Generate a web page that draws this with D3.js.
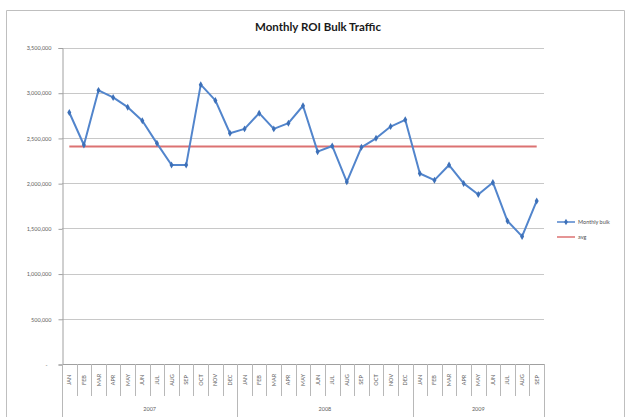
<!DOCTYPE html>
<html>
<head>
<meta charset="utf-8">
<script src="https://cdn.jsdelivr.net/npm/d3@7"></script>
<style>
html,body{margin:0;padding:0;background:#fff;}
svg{display:block;font-family:Lato,"Open Sans",sans-serif;}
</style>
</head>
<body>
<svg id="c" width="634" height="417"></svg>
<script>
const months = ["JAN","FEB","MAR","APR","MAY","JUN","JUL","AUG","SEP","OCT","NOV","DEC",
                "JAN","FEB","MAR","APR","MAY","JUN","JUL","AUG","SEP","OCT","NOV","DEC",
                "JAN","FEB","MAR","APR","MAY","JUN","JUL","AUG","SEP"];
const years = ["2007","2008","2009"];
const yearCounts = [12,12,9];
const monthlyBulk = [2781000,2422000,3026000,2948000,2840000,2690000,2440000,2200000,2200000,3089000,2915000,2552000,
                     2600000,2774000,2600000,2663000,2856000,2348000,2411000,2014000,2396000,2496000,2626000,2700000,
                     2107000,2033000,2200000,1997000,1874000,2008000,1581000,1411000,1803000];
const avgValue = [2405000];
const yTicks = [0,500000,1000000,1500000,2000000,2500000,3000000,3500000];
const seriesNames = ["Monthly bulk","avg"];

const svg = d3.select("#c");
const L = 62, R = 544, T = 47.5, B = 364;
const idx = d3.range(months.length);
const x = d3.scaleBand().domain(idx).range([L, R]);
const y = d3.scaleLinear().domain([0,3500000]).range([B, T]);

// outer frame
svg.append("path").attr("d","M6.5,417 V10.5 H624.5 V417").attr("fill","none").attr("stroke","#bfbfbf");

// title
svg.append("text").attr("x",318).attr("y",31).attr("text-anchor","middle")
  .attr("font-size",11.5).attr("font-weight","bold").attr("fill","#1a1a1a").text("Monthly ROI Bulk Traffic");

// gridlines
svg.append("g").selectAll("line").data(yTicks.filter(d=>d>0)).join("line")
  .attr("x1",L).attr("x2",R).attr("y1",d=>Math.round(y(d))+0.5).attr("y2",d=>Math.round(y(d))+0.5)
  .attr("stroke","#c8c8c8").attr("stroke-width",1);

// y axis
const yAxis = d3.axisLeft(y).tickValues(yTicks).tickSize(4)
  .tickFormat(d => d===0 ? "-" : d3.format(",")(d));
const ya = svg.append("g").attr("transform",`translate(${L+0.5},0.5)`).call(yAxis);
ya.select(".domain").attr("stroke","#a0a0a0");
ya.selectAll(".tick line").attr("stroke","#a0a0a0");
ya.selectAll(".tick text").attr("font-size",5.5).attr("fill","#606060").attr("font-family","Lato,sans-serif").attr("dx",-4);
ya.selectAll(".tick").filter(d=>d===0).select("text").attr("dx",-8);

// x axis baseline
svg.append("line").attr("x1",L).attr("x2",R).attr("y1",B+0.5).attr("y2",B+0.5).attr("stroke","#a0a0a0");

// month separators
const gx = svg.append("g");
gx.selectAll("line.m").data(d3.range(months.length+1)).join("line")
  .attr("class","m")
  .attr("x1",i=> Math.round(i<months.length ? x(i) : R)+0.5)
  .attr("x2",i=> Math.round(i<months.length ? x(i) : R)+0.5)
  .attr("y1",B).attr("y2",396).attr("stroke","#b8b8b8");
// year separators
const bounds = [0];
yearCounts.forEach((c,i)=>bounds.push(bounds[i]+c));
gx.selectAll("line.y").data(bounds).join("line")
  .attr("x1",i=>Math.round(i<months.length ? x(i) : R)+0.5)
  .attr("x2",i=>Math.round(i<months.length ? x(i) : R)+0.5)
  .attr("y1",396).attr("y2",417).attr("stroke","#b8b8b8");
// month labels
gx.selectAll("text.m").data(idx).join("text")
  .attr("transform",i=>`translate(${x(i)+x.bandwidth()/2+2},380) rotate(-90)`)
  .attr("text-anchor","middle").attr("font-size",5.5).attr("fill","#606060").text(i=>months[i]);
// year labels
gx.selectAll("text.y").data(years).join("text")
  .attr("x",(d,i)=>{const a=x(bounds[i]); const b= bounds[i+1]<months.length ? x(bounds[i+1]) : R; return (a+b)/2;})
  .attr("y",411).attr("text-anchor","middle").attr("font-size",5.5).attr("fill","#606060").text(d=>d);

// avg line
svg.append("line").attr("x1",x(0)+x.bandwidth()/2).attr("x2",x(months.length-1)+x.bandwidth()/2)
  .attr("y1",y(avgValue[0])).attr("y2",y(avgValue[0])).attr("stroke","#dc7272").attr("stroke-width",2);

// monthly line
const line = d3.line().x((d,i)=>x(i)+x.bandwidth()/2).y(d=>y(d));
svg.append("path").datum(monthlyBulk).attr("d",line).attr("fill","none")
  .attr("stroke","#5285cc").attr("stroke-width",2).attr("stroke-linejoin","round");
svg.append("g").selectAll("path").data(monthlyBulk).join("path")
  .attr("d",d3.symbol().type(d3.symbolDiamond).size(14))
  .attr("transform",(d,i)=>`translate(${x(i)+x.bandwidth()/2},${y(d)})`)
  .attr("fill","#3d70b8");

// legend
const lg = svg.append("g");
lg.append("line").attr("x1",557).attr("x2",575).attr("y1",222).attr("y2",222).attr("stroke","#5285cc").attr("stroke-width",1.5);
lg.append("path").attr("d",d3.symbol().type(d3.symbolDiamond).size(12)).attr("transform","translate(566,222)").attr("fill","#3d70b8");
lg.append("text").attr("x",578).attr("y",224).attr("font-size",5.5).attr("fill","#505050").text(seriesNames[0]);
lg.append("line").attr("x1",557).attr("x2",575).attr("y1",237).attr("y2",237).attr("stroke","#dc7272").attr("stroke-width",1.5);
lg.append("text").attr("x",578).attr("y",239).attr("font-size",5.5).attr("fill","#505050").text(seriesNames[1]);
</script>
</body>
</html>
